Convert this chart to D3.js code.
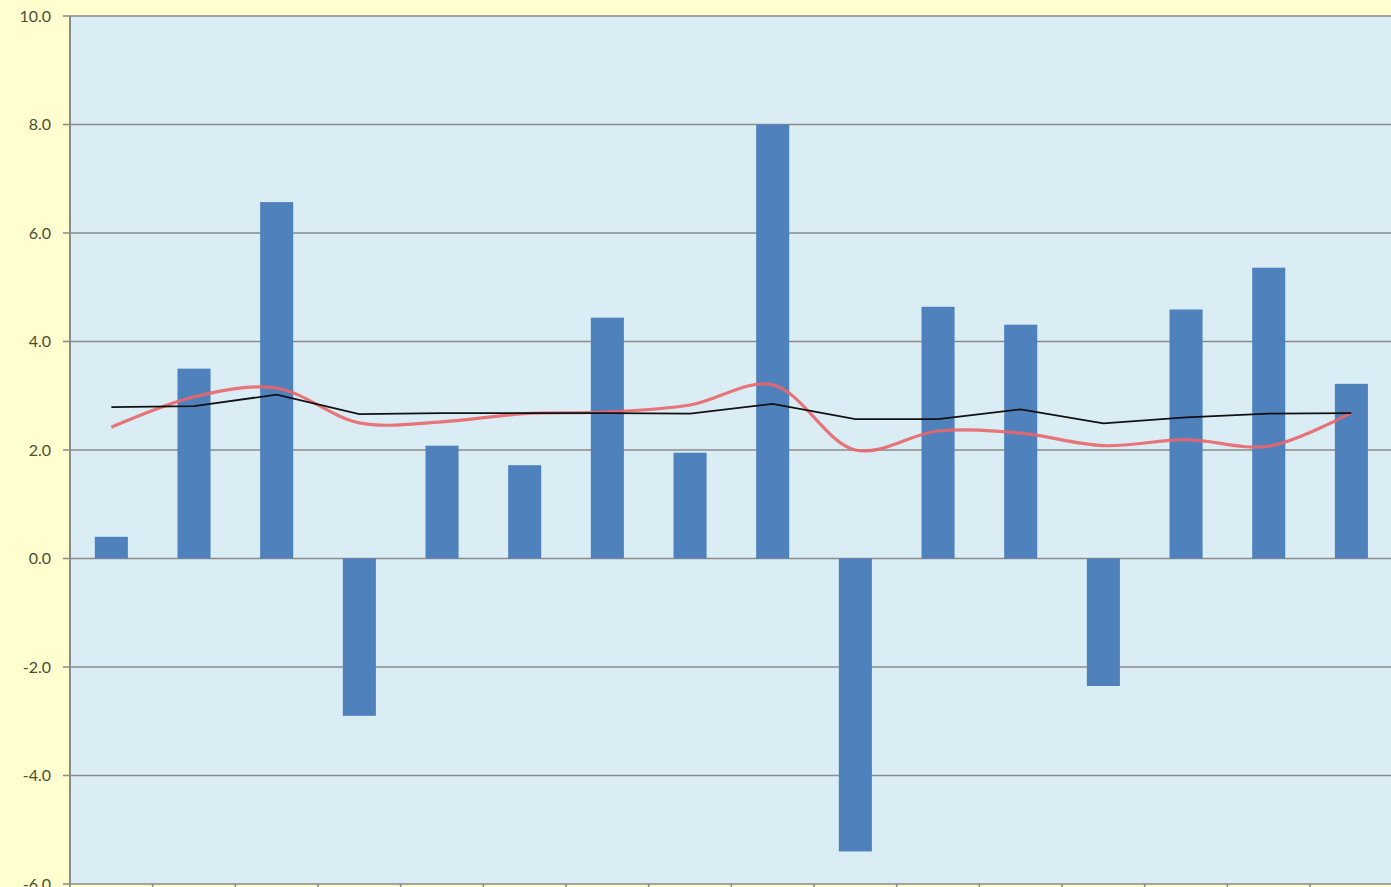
<!DOCTYPE html>
<html>
<head>
<meta charset="utf-8">
<script src="https://cdn.jsdelivr.net/npm/d3@7"></script>
<style>
  body { margin: 0; background: #fefecf; overflow: hidden; }
  svg { display: block; }
</style>
</head>
<body>
<div id="chart"></div>
<script>
// DATA
var categories = d3.range(1, 17).map(String);
var barValues = [0.4, 3.5, 6.57, -2.9, 2.08, 1.72, 4.44, 1.95, 8.0, -5.4, 4.64, 4.31, -2.35, 4.59, 5.36, 3.22];
var blackLine = [2.79, 2.81, 3.02, 2.66, 2.68, 2.68, 2.68, 2.67, 2.85, 2.57, 2.57, 2.75, 2.49, 2.6, 2.67, 2.68];
var redLine = [2.42, 2.98, 3.14, 2.5, 2.52, 2.67, 2.7, 2.83, 3.2, 2.0, 2.35, 2.31, 2.08, 2.19, 2.07, 2.69];
var yTicks = [-6, -4, -2, 0, 2, 4, 6, 8, 10];

// SIZES
var width = 1391;
var height = 887;
var plotLeft = 70;
var plotTop = 16;
var plotBottom = 884;
var step = 82.67;

var svg = d3.select("#chart")
  .append("svg")
  .attr("width", width)
  .attr("height", height);

var xScale = d3.scaleBand()
  .domain(categories)
  .range([plotLeft, plotLeft + step * categories.length])
  .paddingInner(0.6)
  .paddingOuter(0.3);

var yScale = d3.scaleLinear()
  .domain([-6, 10])
  .range([plotBottom, plotTop]);

// plot area
svg.append("rect")
  .attr("x", plotLeft)
  .attr("y", plotTop)
  .attr("width", step * categories.length)
  .attr("height", plotBottom - plotTop)
  .attr("fill", "#dbedf4");

// gridlines
svg.selectAll("line.grid")
  .data(yTicks)
  .enter()
  .append("line")
  .attr("class", "grid")
  .attr("x1", plotLeft - 7)
  .attr("x2", width)
  .attr("y1", function(d) { return yScale(d); })
  .attr("y2", function(d) { return yScale(d); })
  .attr("stroke", "#8a8a8a")
  .attr("stroke-width", 1.6);

// y labels
svg.selectAll("text.ylab")
  .data(yTicks)
  .enter()
  .append("text")
  .attr("class", "ylab")
  .attr("x", 51)
  .attr("y", function(d) { return yScale(d); })
  .attr("dy", "0.35em")
  .attr("text-anchor", "end")
  .attr("font-family", "Lato, 'Open Sans', sans-serif")
  .attr("font-size", "16px")
  .attr("fill", "#4d4d33")
  .text(function(d) { return d.toFixed(1); });

// x axis tick marks at category boundaries
svg.selectAll("line.xtick")
  .data(d3.range(categories.length + 1))
  .enter()
  .append("line")
  .attr("class", "xtick")
  .attr("x1", function(i) { return plotLeft + i * step; })
  .attr("x2", function(i) { return plotLeft + i * step; })
  .attr("y1", plotBottom)
  .attr("y2", plotBottom + 7)
  .attr("stroke", "#8a8a8a")
  .attr("stroke-width", 1.6);

// bars
svg.selectAll("rect.bar")
  .data(barValues)
  .enter()
  .append("rect")
  .attr("class", "bar")
  .attr("x", function(d, i) { return xScale(categories[i]); })
  .attr("y", function(d) { return yScale(Math.max(0, d)); })
  .attr("width", xScale.bandwidth())
  .attr("height", function(d) { return Math.abs(yScale(d) - yScale(0)); })
  .attr("fill", "#4f81bd");

// left axis line
svg.append("line")
  .attr("x1", plotLeft)
  .attr("x2", plotLeft)
  .attr("y1", plotTop)
  .attr("y2", plotBottom)
  .attr("stroke", "#8a8a8a")
  .attr("stroke-width", 2);

var cx = function(d, i) { return xScale(categories[i]) + xScale.bandwidth() / 2; };

// red smoothed line
var redPath = d3.line()
  .x(cx)
  .y(function(d) { return yScale(d); })
  .curve(d3.curveCatmullRom.alpha(0.5));

svg.append("path")
  .datum(redLine)
  .attr("d", redPath)
  .attr("fill", "none")
  .attr("stroke", "#e8666a")
  .attr("stroke-opacity", 0.9)
  .attr("stroke-width", 3.2);

// black line
var blackPath = d3.line()
  .x(cx)
  .y(function(d) { return yScale(d); });

svg.append("path")
  .datum(blackLine)
  .attr("d", blackPath)
  .attr("fill", "none")
  .attr("stroke", "#111")
  .attr("stroke-width", 1.8);
</script>
</body>
</html>
